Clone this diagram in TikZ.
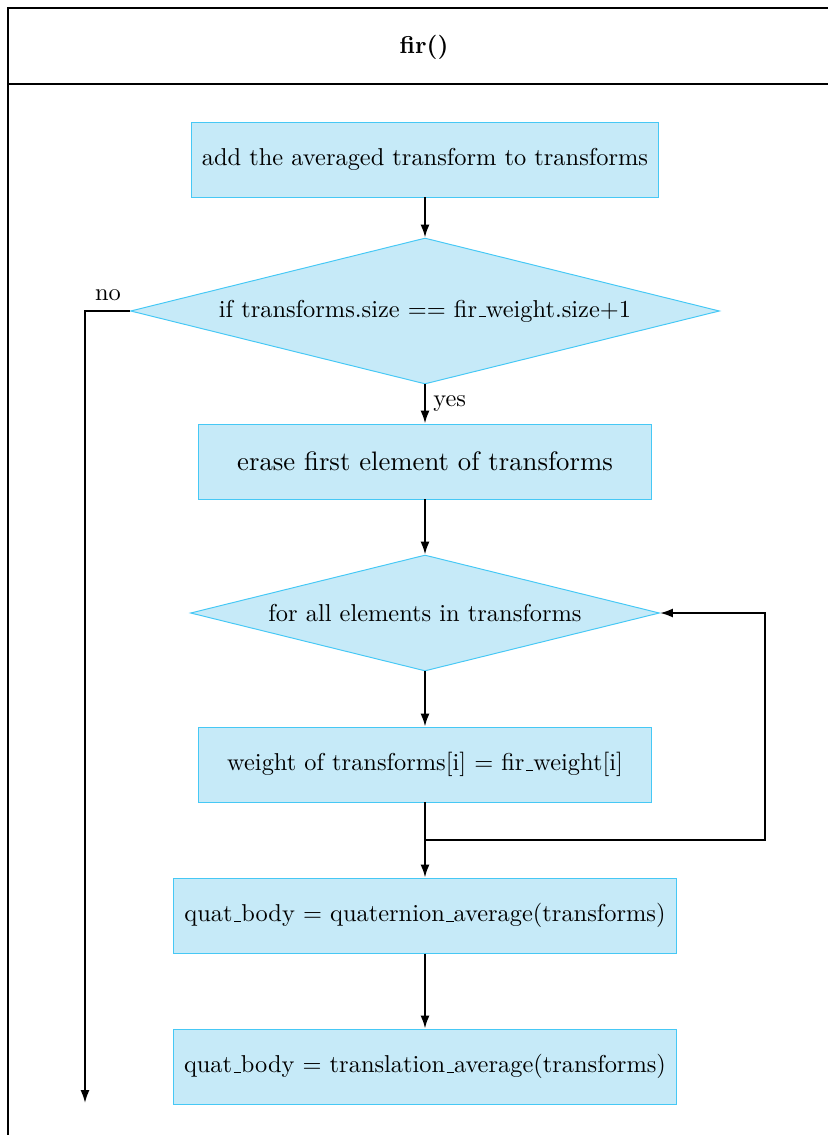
\documentclass[tikz,border=0pt]{standalone}
\usetikzlibrary{shapes.geometric,arrows.meta}
\definecolor{boxfill}{RGB}{198,234,248}
\definecolor{boxline}{RGB}{70,200,245}
\newcommand{\pxu}{0.4098pt}
% short low underscore rule, as in classic TeX text
\newcommand{\usc}{\leavevmode\kern.06em\vbox{\hrule width.3em}}
\begin{document}
\begin{tikzpicture}[x=0.4098pt, y=-0.4098pt,
  txt/.style={font=\fontsize{10}{12}\selectfont},
  procbox/.style={draw=boxline, fill=boxfill, line width=0.4pt, inner sep=0pt,
    minimum height=75*\pxu, txt},
  decision/.style={diamond, draw=boxline, fill=boxfill, line width=0.4pt, inner sep=0pt,
    aspect=4, txt},
  flow/.style={line width=0.8pt, -{Latex[length=5.3pt,width=3.7pt]}},
  frame/.style={line width=0.8pt}]
\useasboundingbox (0,0) rectangle (828,1135);

% swimlane frame with header
\draw[frame] (828,8) -- (8,8) -- (8,1135);
\draw[frame] (8,84) -- (828,84);
\node[font=\fontsize{10}{12}\selectfont\bfseries] (title) at (424,47) {fir()};

% steps
\node[procbox, minimum width=467*\pxu] (b1) at (425,159.5) {add the averaged transform to transforms};
\node[decision, minimum width=589*\pxu, minimum height=146*\pxu] (d1) at (425,311) {if transforms.size == fir\usc weight.size+1};
\node[procbox, minimum width=453*\pxu, font=\fontsize{10.95}{13.6}\selectfont] (b2) at (425,461.5) {erase first element of transforms};
\node[decision, minimum width=469*\pxu, minimum height=116*\pxu] (d2) at (425,613) {for all elements in transforms};
\node[procbox, minimum width=453*\pxu] (b3) at (425,764.5) {weight of transforms[i] = fir\usc weight[i]};
\node[procbox, minimum width=503*\pxu] (b4) at (425,915.5) {quat\usc body = quaternion\usc average(transforms)};
\node[procbox, minimum width=503*\pxu] (b5) at (425,1066.5) {quat\usc body = translation\usc average(transforms)};

% helper points
\coordinate (nocorner) at (85,311);
\coordinate (noend) at (85,1103);
\coordinate (join) at (425,840);
\coordinate (loopr) at (765,840);

% connectors
\draw[flow] (b1) -- (d1);
\draw[flow] (d1) -- node[right, txt, inner sep=3pt] {yes} (b2);
\draw[flow] (b2) -- (d2);
\draw[flow] (d2) -- (b3);
\draw[flow] (b3) -- (b4);
\draw[flow] (b4) -- (b5);
\draw[flow] (join) -- (loopr) |- (d2.east);
\draw[flow] (d1.west) -- (nocorner) -- (noend);
\node[txt] (nolabel) at (108,295) {no};
\end{tikzpicture}
\end{document}
